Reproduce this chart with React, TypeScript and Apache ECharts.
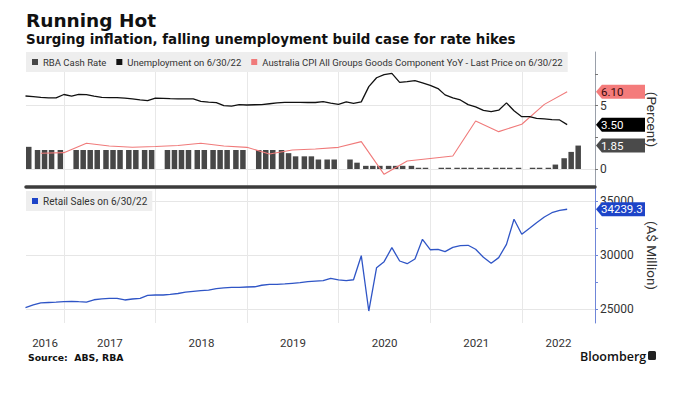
import React, { useEffect, useRef } from "react";
import * as echarts from "echarts";

// ---------- data ----------
const RBA_NAME = "RBA Cash Rate";
const UNEMP_NAME = "Unemployment on 6/30/22";
const CPI_NAME = "Australia CPI All Groups Goods Component YoY - Last Price on 6/30/22";
const RETAIL_NAME = "Retail Sales on 6/30/22";

// RBA board meeting dates (no January meeting) and cash rate (%)
const RBA_DATES = [
  "2016-08-02", "2016-09-06", "2016-10-04", "2016-11-01", "2016-12-06",
  "2017-02-07", "2017-03-07", "2017-04-04", "2017-05-02", "2017-06-06", "2017-07-04", "2017-08-01", "2017-09-05", "2017-10-03", "2017-11-07", "2017-12-05",
  "2018-02-06", "2018-03-06", "2018-04-03", "2018-05-01", "2018-06-05", "2018-07-03", "2018-08-07", "2018-09-04", "2018-10-02", "2018-11-06", "2018-12-04",
  "2019-02-05", "2019-03-05", "2019-04-02", "2019-05-07", "2019-06-04", "2019-07-02", "2019-08-06", "2019-09-03", "2019-10-01", "2019-11-05", "2019-12-03",
  "2020-02-04", "2020-03-03", "2020-04-07", "2020-05-05", "2020-06-02", "2020-07-07", "2020-08-04", "2020-09-01", "2020-10-06", "2020-11-03", "2020-12-01",
  "2021-02-02", "2021-03-02", "2021-04-06", "2021-05-04", "2021-06-01", "2021-07-06", "2021-08-03", "2021-09-07", "2021-10-05", "2021-11-02", "2021-12-07",
  "2022-02-01", "2022-03-01", "2022-04-05", "2022-05-03", "2022-06-07", "2022-07-05", "2022-08-02",
];
const RBA_RATE = [
  1.75, 1.5, 1.5, 1.5, 1.5,
  1.5, 1.5, 1.5, 1.5, 1.5, 1.5, 1.5, 1.5, 1.5, 1.5, 1.5,
  1.5, 1.5, 1.5, 1.5, 1.5, 1.5, 1.5, 1.5, 1.5, 1.5, 1.5,
  1.5, 1.5, 1.5, 1.5, 1.25, 1.0, 1.0, 1.0, 0.75, 0.75, 0.75,
  0.75, 0.5, 0.25, 0.25, 0.25, 0.25, 0.25, 0.25, 0.25, 0.1, 0.1,
  0.1, 0.1, 0.1, 0.1, 0.1, 0.1, 0.1, 0.1, 0.1, 0.1, 0.1,
  0.1, 0.1, 0.1, 0.35, 0.85, 1.35, 1.85,
];

// Monthly series: month-end, Jul 2016 .. Jun 2022
const MONTHLY_START = { year: 2016, month: 7 };
const UNEMPLOYMENT = [
  5.76, 5.72, 5.66, 5.62, 5.62, 5.88,
  5.76, 5.89, 5.87, 5.75, 5.66, 5.63, 5.63, 5.6, 5.53, 5.45, 5.39, 5.6,
  5.58, 5.55, 5.53, 5.53, 5.53, 5.33, 5.28, 5.24, 5.0, 4.97, 5.08, 5.05,
  5.07, 5.08, 5.15, 5.22, 5.26, 5.26, 5.26, 5.25, 5.25, 5.31, 5.2, 5.1,
  5.29, 5.18, 5.3, 6.5, 7.2, 7.45, 7.55, 6.84, 6.9, 6.97, 6.8, 6.6,
  6.35, 5.85, 5.62, 5.45, 5.08, 4.9, 4.62, 4.53, 4.64, 5.22, 4.6, 4.13,
  4.13, 4.0, 3.95, 3.9, 3.87, 3.5,
];
const RETAIL_SALES = [
  25150, 25400, 25600, 25630, 25660, 25700,
  25740, 25700, 25670, 25880, 25970, 26010, 26010, 25860, 25950, 26010, 26280, 26320,
  26320, 26380, 26460, 26580, 26660, 26720, 26770, 26900, 26970, 27030, 27030, 27060,
  27080, 27220, 27310, 27310, 27340, 27400, 27460, 27560, 27610, 27650, 27860, 27720,
  27640, 27730, 29950, 24840, 28840, 29400, 30690, 29460, 29210, 29640, 31460, 30500,
  30540, 30320, 30720, 30870, 30910, 30540, 29800, 29250, 29770, 31000, 33310, 31930,
  32480, 33000, 33520, 33920, 34140, 34239.3,
];

// Quarterly CPI goods YoY (%), quarter ends Sep 2016 .. Jun 2022
const QUARTERLY_START = { year: 2016, month: 9 };
const CPI_GOODS = [
  1.24, 1.29,
  2.03, 1.82, 1.72, 1.78,
  1.85, 2.03, 1.82, 1.71,
  1.18, 1.5, 1.58, 1.71,
  2.16, -0.42, 0.63, 0.83,
  1.03, 3.79, 2.95, 3.53,
  5.1, 6.1,
];

const YEAR_LABELS = ["2016", "2017", "2018", "2019", "2020", "2021", "2022"];
const PCT_TICKS = [0, 5];
const PCT_MINOR_TICKS = [2.5, 7.5];
const RETAIL_TICKS = [25000, 30000, 35000];
const RETAIL_MINOR_TICKS = [27500, 32500];

const TAG_RBA = "1.85";
const TAG_UNEMP = "3.50";
const TAG_CPI = "6.10";
const TAG_RETAIL = "34239.3";

// ---------- helpers ----------
const ts = (y: number, m: number, d: number) => new Date(y, m - 1, d).getTime();
function periodEnds(startYear: number, startMonth: number, stepMonths: number, count: number): number[] {
  const out: number[] = [];
  for (let i = 0; i < count; i++) {
    const m0 = startMonth - 1 + i * stepMonths;
    const y = startYear + Math.floor(m0 / 12);
    const m = (m0 % 12) + 1;
    out.push(new Date(y, m, 0).getTime()); // last day of month m
  }
  return out;
}
const parseDay = (s: string) => {
  const [y, m, d] = s.split("-").map(Number);
  return ts(y, m, d);
};

const X_MIN = ts(2016, 8, 2);
const X_MAX = ts(2022, 10, 19);
const DAY = 24 * 3600 * 1000;
const BAR_SHIFT = 11 * DAY; // bars start at the meeting date

const FONT = "Roboto";
const TAG_PATH = "path://M0,7L6,0L50,0L50,14L6,14Z";

function tag(value: number, text: string, bg: string, fg: string) {
  return {
    silent: true,
    symbol: TAG_PATH,
    symbolSize: [49, 14],
    symbolKeepAspect: false,
    symbolOffset: [25.5, 0],
    itemStyle: { color: bg },
    label: {
      show: true,
      position: "insideLeft",
      distance: 5,
      color: fg,
      fontSize: 11.5,
      fontFamily: FONT,
      formatter: () => text,
    },
    data: [{ coord: [X_MAX, value], value }],
  };
}

export default function App() {
  const ref = useRef<HTMLDivElement>(null);
  useEffect(() => {
    if (!ref.current) return;
    const chart = echarts.init(ref.current, undefined, { renderer: "svg" });

    const monthDates = periodEnds(MONTHLY_START.year, MONTHLY_START.month, 1, UNEMPLOYMENT.length);
    const quarterDates = periodEnds(QUARTERLY_START.year, QUARTERLY_START.month, 3, CPI_GOODS.length);

    const yearStarts: number[] = [];
    const labelPos: number[] = [];
    YEAR_LABELS.forEach((y) => {
      const yr = +y;
      const s = ts(yr, 1, 1);
      const e = ts(yr + 1, 1, 1);
      if (s > X_MIN) yearStarts.push(s);
      labelPos.push((Math.max(s, X_MIN) + Math.min(e, X_MAX)) / 2);
    });

    const xBase = (gridIndex: number) => ({
      type: "value",
      gridIndex,
      min: X_MIN,
      max: X_MAX,
      axisTick: { show: false, customValues: yearStarts },
      splitLine: { show: true, lineStyle: { color: "#e8e8e8", width: 1 } },
    });

    const yBase = (gridIndex: number, min: number, max: number) => ({
      type: "value",
      gridIndex,
      position: "right",
      min,
      max,
    });

    const plain = (v: number) => String(v);

    const option: any = {
      animation: false,
      backgroundColor: "#ffffff",
      textStyle: { fontFamily: FONT },
      grid: [
        { left: 26, right: 88, top: 52, height: 135 },
        { left: 26, right: 88, top: 188, height: 135 },
      ],
      xAxis: [
        {
          ...xBase(0),
          axisLine: { show: true, onZero: false, lineStyle: { color: "#3c3c3c", width: 3.5 } },
          axisLabel: { show: false },
        },
        {
          ...xBase(1),
          axisLine: { show: false, onZero: false },
          axisLabel: {
            show: true,
            customValues: labelPos,
            margin: 14,
            fontSize: 11.5,
            color: "#333",
            fontFamily: FONT,
            formatter: (v: number) => String(new Date(v).getFullYear()),
          },
        },
      ],
      yAxis: [
        {
          ...yBase(0, -1.42, 9.234),
          axisLine: { show: true, lineStyle: { color: "#9aa0aa", width: 1 } },
          axisTick: { show: true, customValues: PCT_TICKS, length: 3, lineStyle: { color: "#777" } },
          axisLabel: { show: true, customValues: PCT_TICKS, margin: 5, fontSize: 12, color: "#333", fontFamily: FONT, formatter: plain },
          splitLine: { show: true, lineStyle: { color: "#e6e6e6" } },
          name: "(Percent)",
          nameLocation: "middle",
          nameRotate: -90,
          nameGap: 50,
          nameTextStyle: { fontSize: 13.5, color: "#333", fontFamily: FONT },
        },
        {
          ...yBase(0, -1.42, 9.234),
          axisLine: { show: false },
          axisTick: { show: true, customValues: PCT_MINOR_TICKS, length: 3, lineStyle: { color: "#777" } },
          axisLabel: { show: false },
          splitLine: { show: false },
        },
        {
          ...yBase(1, 23735, 36200),
          axisLine: { show: true, lineStyle: { color: "#6f86d8", width: 1 } },
          axisTick: { show: true, customValues: RETAIL_TICKS, length: 3, lineStyle: { color: "#6f86d8" } },
          axisLabel: { show: true, customValues: RETAIL_TICKS, margin: 5, fontSize: 12, color: "#333", fontFamily: FONT, formatter: plain },
          splitLine: { show: true, lineStyle: { color: "#e6e6e6" } },
          name: "(A$ Million)",
          nameLocation: "middle",
          nameRotate: -90,
          nameGap: 50,
          nameTextStyle: { fontSize: 13.5, color: "#333", fontFamily: FONT },
        },
        {
          ...yBase(1, 23735, 36200),
          axisLine: { show: false },
          axisTick: { show: true, customValues: RETAIL_MINOR_TICKS, length: 3, lineStyle: { color: "#6f86d8" } },
          axisLabel: { show: false },
          splitLine: { show: false },
        },
      ],
      legend: [
        {
          data: [RBA_NAME, UNEMP_NAME, CPI_NAME],
          left: 26,
          top: 52,
          selectedMode: false,
          backgroundColor: "#eeeeee",
          padding: [5, 5, 5, 6],
          itemGap: 10,
          itemWidth: 6,
          itemHeight: 6,
          icon: "rect",
          textStyle: { fontSize: 9.5, color: "#333", fontFamily: FONT },
        },
        {
          data: [RETAIL_NAME],
          left: 26,
          top: 191,
          selectedMode: false,
          backgroundColor: "#eeeeee",
          padding: [5, 5, 5, 6],
          itemWidth: 6,
          itemHeight: 6,
          icon: "rect",
          textStyle: { fontSize: 10, color: "#333", fontFamily: FONT },
        },
      ],
      series: [
        {
          name: RBA_NAME,
          type: "bar",
          xAxisIndex: 0,
          yAxisIndex: 0,
          barWidth: 5.5,
          clip: false,
          itemStyle: { color: "#474747" },
          data: RBA_DATES.map((d, i) => [parseDay(d) + BAR_SHIFT, RBA_RATE[i]]),
          markPoint: tag(RBA_RATE[RBA_RATE.length - 1], TAG_RBA, "#4a4a4a", "#ffffff"),
          z: 2,
        },
        {
          name: UNEMP_NAME,
          type: "line",
          xAxisIndex: 0,
          yAxisIndex: 0,
          symbol: "none",
          clip: false,
          lineStyle: { color: "#111111", width: 1.3 },
          itemStyle: { color: "#111111" },
          data: monthDates.map((d, i) => [d, UNEMPLOYMENT[i]]),
          markPoint: tag(UNEMPLOYMENT[UNEMPLOYMENT.length - 1], TAG_UNEMP, "#000000", "#ffffff"),
          z: 4,
        },
        {
          name: CPI_NAME,
          type: "line",
          xAxisIndex: 0,
          yAxisIndex: 0,
          symbol: "none",
          clip: false,
          lineStyle: { color: "#f07a7a", width: 1.1 },
          itemStyle: { color: "#f07a7a" },
          data: quarterDates.map((d, i) => [d, CPI_GOODS[i]]),
          markPoint: tag(CPI_GOODS[CPI_GOODS.length - 1], TAG_CPI, "#f47b7b", "#3a0a0a"),
          z: 3,
        },
        {
          name: RETAIL_NAME,
          type: "line",
          xAxisIndex: 1,
          yAxisIndex: 2,
          symbol: "none",
          clip: false,
          lineStyle: { color: "#2f55c6", width: 1.3 },
          itemStyle: { color: "#1d44c8" },
          data: monthDates.map((d, i) => [d, RETAIL_SALES[i]]),
          markPoint: tag(RETAIL_SALES[RETAIL_SALES.length - 1], TAG_RETAIL, "#1d44c8", "#ffffff"),
          z: 3,
        },
      ],
      graphic: [
        { type: "text", left: 26, top: 11, style: { text: "Running Hot", font: 'bold 18.5px "DejaVu Sans"', fill: "#111" } },
        {
          type: "text",
          left: 26,
          top: 33,
          style: { text: "Surging inflation, falling unemployment build case for rate hikes", font: 'bold 13.4px "DejaVu Sans"', fill: "#111" },
        },
        { type: "text", left: 28, top: 353, style: { text: "Source:  ABS, RBA", font: 'bold 9.3px "DejaVu Sans"', fill: "#111" } },
        { type: "text", left: 580, top: 350, style: { text: "Bloomberg", font: '600 12.5px "Open Sans"', fill: "#111" } },
        { type: "rect", left: 648, top: 351, shape: { width: 8, height: 9, r: 1.5 }, style: { fill: "#222" } },
      ],
    };

    chart.setOption(option);
    return () => chart.dispose();
  }, []);

  return <div ref={ref} style={{ position: "fixed", left: 0, top: 0, width: 683, height: 393 }} />;
}
